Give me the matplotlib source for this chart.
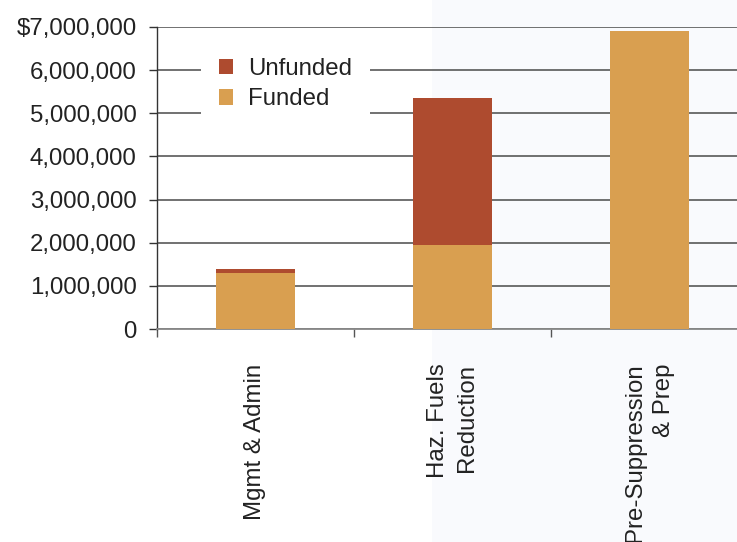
import matplotlib
matplotlib.use("Agg")
import matplotlib.pyplot as plt
from matplotlib.patches import Rectangle
import numpy as np

plt.rcParams['font.family'] = ['Liberation Sans', 'DejaVu Sans']

# budget by activity (dollars)
categories = ["Mgmt & Admin", "Haz. Fuels\nReduction", "Pre-Suppression\n& Prep"]
funded = [1300000, 1950000, 6900000]
unfunded = [100000, 3400000, 0]
yticks = [0, 1000000, 2000000, 3000000, 4000000, 5000000, 6000000, 7000000]
ytick_labels = ["0", "1,000,000", "2,000,000", "3,000,000", "4,000,000",
                "5,000,000", "6,000,000", "$7,000,000"]

c_funded = "#d99f50"
c_unfunded = "#ae4b2f"

fig = plt.figure(figsize=(7.37, 5.42), dpi=100)
fig.patch.set_facecolor("white")
# pale panel on the right half of the page
fig.patches.append(Rectangle((432/737, 0), 1, 1, transform=fig.transFigure,
                             facecolor="#f9fafd", edgecolor="none", zorder=-10))

ax = fig.add_axes([157/737, 213/542, 591/737, 302/542])
ax.patch.set_visible(False)
ax.set_zorder(1)

x = np.arange(len(categories))
ax.bar(x, funded, width=0.4, color=c_funded, label="Funded", zorder=3)
ax.bar(x, unfunded, width=0.4, bottom=funded, color=c_unfunded, label="Unfunded", zorder=3)

ax.set_xlim(-0.5, 2.5)
ax.set_ylim(0, 7000000)
ax.set_yticks(yticks)
ax.set_yticklabels(ytick_labels)
ax.yaxis.grid(True, color="#4a4a4a", linewidth=1.1, zorder=1)
ax.set_axisbelow(True)

for s in ["top", "right"]:
    ax.spines[s].set_visible(False)
ax.spines["left"].set_color("#333333")
ax.spines["bottom"].set_color("#888888")
ax.spines["left"].set_linewidth(1.0)
ax.spines["bottom"].set_linewidth(1.3)

ax.tick_params(axis="y", length=6, width=1.0, color="#333333", pad=8.5,
               labelsize=17.3, labelcolor="#222222")

ax.set_xticks(x)
ax.set_xticklabels(categories, rotation=90, ha="center", va="top",
                   multialignment="right", fontsize=17.3, color="#222222",
                   linespacing=1.45)
ax.tick_params(axis="x", which="major", length=0, pad=25)
ax.set_xticks([-0.5, 0.5, 1.5, 2.5], minor=True)
ax.tick_params(axis="x", which="minor", length=6, width=1.0, color="#555555")

h, l = ax.get_legend_handles_labels()
leg = ax.legend(h[::-1], l[::-1], loc="upper left", bbox_to_anchor=(32/591, 1 - 1/302),
                fontsize=17.3, frameon=True, facecolor="white", edgecolor="none",
                framealpha=1, fancybox=False, handlelength=0.6, handleheight=0.6,
                handletextpad=0.6, labelspacing=0.35, borderpad=0.75)
for t in leg.get_texts():
    t.set_color("#222222")
leg.set_zorder(5)

fig.savefig("out.png", dpi=100)
